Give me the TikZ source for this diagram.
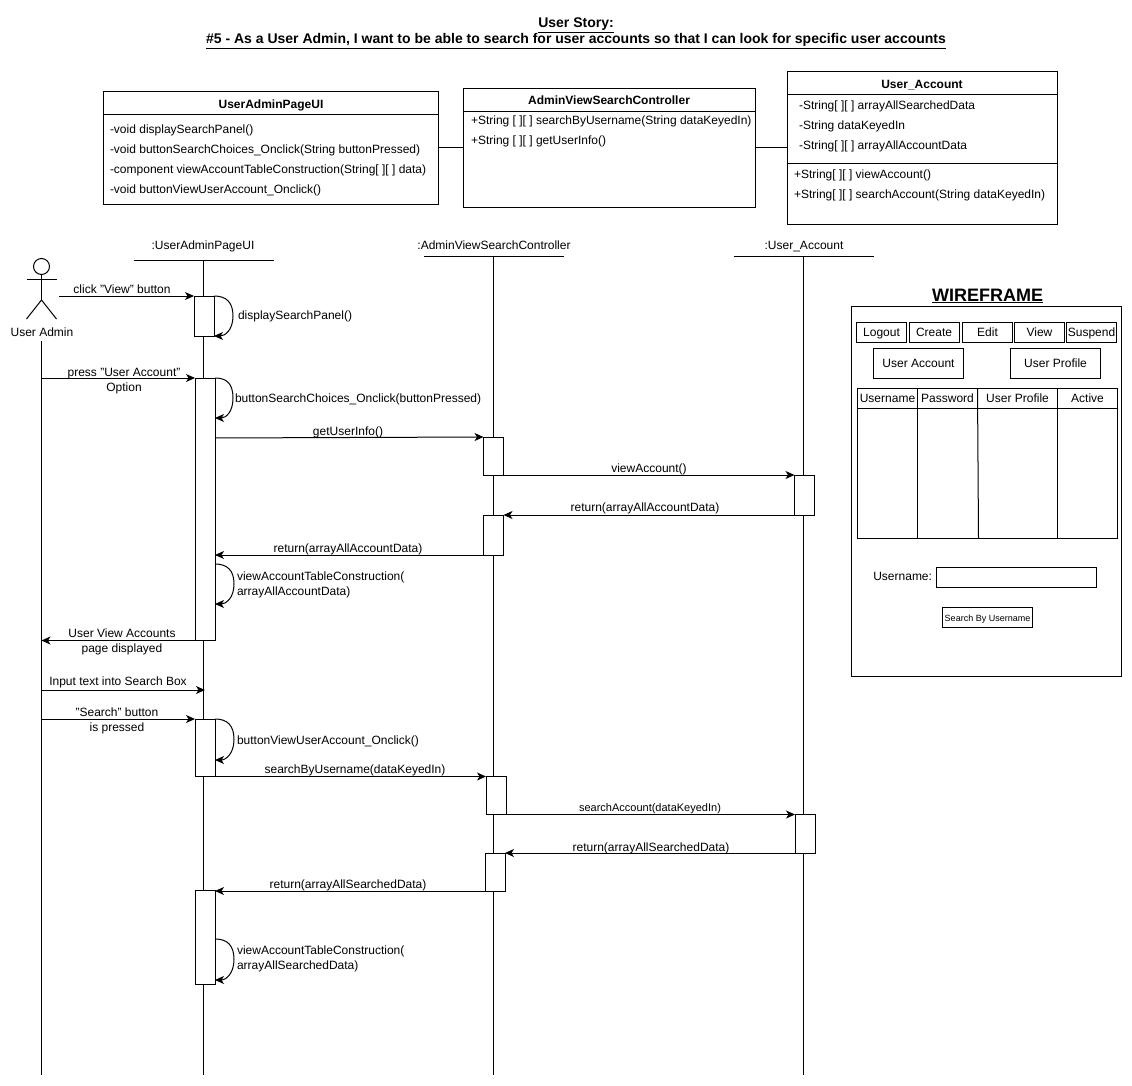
\documentclass[tikz,border=0pt]{standalone}
\usepackage{fontspec}
\setmainfont{Liberation Sans}
\usetikzlibrary{arrows.meta,calc}
\newcommand{\fsz}[1]{\fontsize{#1}{15}\selectfont}
\newcommand{\pbox}[6][]{%
  \pgfmathsetmacro{\pcx}{(#3+#5)/2}\pgfmathsetmacro{\pcy}{(#4+#6)/2}%
  \pgfmathsetmacro{\pw}{#5-#3}\pgfmathsetmacro{\ph}{#6-#4}%
  \node[boxn,minimum width=\pw pt,minimum height=\ph pt,#1] (#2) at (\pcx,\pcy) {};}
\newcommand{\selfloop}[3]{% from, to, bulge x-distance
  \draw[msg] (#1) .. controls +(12,0) and ($(#1)+(#3,6)$) .. ($(#1)!0.5!(#2)+(#3,0)$)
     .. controls ($(#1)!0.5!(#2)+(#3,14)$) and ($(#2)+(11,0)$) .. (#2);}
\tikzset{
  boxn/.style={draw=black,line width=1pt,fill=white,rectangle,inner sep=0pt,outer sep=0pt},
  lin/.style={draw=black,line width=1pt},
  msg/.style={draw=black,line width=1pt,-{Stealth[length=9pt,width=8pt,inset=2.5pt]}},
  lbl/.style={inner sep=0pt,outer sep=0pt,font=\fsz{12},align=center,text height=10pt,text depth=2pt},
  ltxt/.style={lbl,anchor=west,align=left}
}
\begin{document}
\begin{tikzpicture}[x=1pt,y=-1pt]
\useasboundingbox (0,0) rectangle (1132,1086);
% titles
\node[lbl,font=\fsz{14}\bfseries] (t1) at (576,24) {\underline{User Story:}};
\node[lbl,font=\fsz{14}\bfseries] (t2) at (576,40) {\underline{\#5 - As a User Admin, I want to be able to search for user accounts so that I can look for specific user accounts}};
% class boxes
\pbox{cUI}{103.5}{91.5}{438.5}{204.5}
\pbox{cCT}{463.5}{88.5}{755.5}{207.5}
\pbox{cAC}{787.5}{71.5}{1057.5}{224.5}
\coordinate (cUIh) at (103.5,114.5);
\coordinate (cCTh) at (463.5,111.5);
\coordinate (cACh) at (787.5,95);
\coordinate (cACm) at (787.5,164);
\draw[lin] (cUIh) -- (cUIh -| cUI.east);
\draw[lin] (cCTh) -- (cCTh -| cCT.east);
\draw[lin] (cACh) -- (cACh -| cAC.east);
\draw[lin] (cACm) -- (cACm -| cAC.east);
\coordinate (lkA) at (438.5,148);
\coordinate (lkB) at (755.5,148);
\draw[lin] (lkA) -- (lkA -| cCT.west);
\draw[lin] (lkB) -- (lkB -| cAC.west);
\node[lbl,font=\fsz{12}\bfseries] (n1) at (271,105) {UserAdminPageUI};
\node[ltxt] (u1) at (110,130) {-void displaySearchPanel()};
\node[ltxt] (u2) at (110,150) {-void buttonSearchChoices\_Onclick(String buttonPressed)};
\node[ltxt] (u3) at (110,170) {-component viewAccountTableConstruction(String[ ][ ] data)};
\node[ltxt] (u4) at (110,190) {-void buttonViewUserAccount\_Onclick()};
\node[lbl,font=\fsz{12}\bfseries] (n2) at (609,101) {AdminViewSearchController};
\node[ltxt] (v1) at (471,121) {+String [ ][ ] searchByUsername(String dataKeyedIn)};
\node[ltxt] (v2) at (471,141) {+String [ ][ ] getUserInfo()};
\node[lbl,font=\fsz{12}\bfseries] (n3) at (922,85) {User\_Account};
\node[ltxt] (w1) at (799,106) {-String[ ][ ] arrayAllSearchedData};
\node[ltxt] (w2) at (799,126) {-String dataKeyedIn};
\node[ltxt] (w3) at (799,146) {-String[ ][ ] arrayAllAccountData};
\node[ltxt] (w4) at (794,175) {+String[ ][ ] viewAccount()};
\node[ltxt] (w5) at (794,195) {+String[ ][ ] searchAccount(String dataKeyedIn)};
% lifeline heads
\node[lbl] (hUI) at (203,245) {:UserAdminPageUI};
\node[lbl] (hCT) at (494,245) {:AdminViewSearchController};
\node[lbl] (hAC) at (804,245) {:User\_Account};
\coordinate (tUI) at (203.5,260);
\coordinate (tCT) at (493.5,256);
\coordinate (tAC) at (803.7,256);
\coordinate (bUI) at (203.5,1075);
\coordinate (bCT) at (493.5,1075);
\coordinate (bAC) at (803.7,1075);
\draw[lin] ($(tUI)+(-70,0)$) -- ($(tUI)+(70,0)$);
\draw[lin] ($(tCT)+(-70,0)$) -- ($(tCT)+(70,0)$);
\draw[lin] ($(tAC)+(-70,0)$) -- ($(tAC)+(70,0)$);
\draw[lin] (tUI) -- (bUI);
\draw[lin] (tCT) -- (bCT);
\draw[lin] (tAC) -- (bAC);
% actor
\node[draw=black,line width=1pt,circle,minimum size=16pt,inner sep=0pt,outer sep=0pt] (head) at (41.5,266.5) {};
\coordinate (hip) at (41.5,300);
\coordinate (armL) at (26.5,279.5);
\coordinate (armR) at (56.5,279.5);
\coordinate (legL) at (26.5,319);
\coordinate (legR) at (56.5,319);
\draw[lin] (head.south) -- (hip);
\draw[lin] (armL) -- (armR);
\draw[lin] (legL) -- (hip) -- (legR);
\node[lbl] (act) at (42,332.5) {User Admin};
\coordinate (lA) at (41.5,341);
\coordinate (bA) at (41.5,1075);
\draw[lin] (lA) -- (bA);
% activations
\pbox{a1}{194}{296}{214}{336}
\pbox{a2}{195}{378}{215}{640.5}
\pbox{a3}{195}{719}{215}{776.5}
\pbox{a4}{195}{890.5}{215}{984.5}
\pbox{c1}{483.5}{437}{503.5}{475}
\pbox{c2}{483.5}{515}{503.5}{555}
\pbox{c3}{486}{776.5}{506}{814.5}
\pbox{c4}{485}{853}{505}{891}
\pbox{d1}{794.5}{475}{814.5}{515}
\pbox{d2}{795}{814.5}{815}{853}
% messages
\coordinate (st) at (59,296);
\draw[msg] (st) -- (a1.north west);
\node[lbl] (m1) at (122,289) {click "View" button};
\selfloop{a1.north east}{a1.south east}{19}
\node[ltxt] (m2) at (238,315) {displaySearchPanel()};
\draw[msg] (lA |- a2.north) -- (a2.north west);
\node[lbl] (m3) at (124,372) {press "User Account"};
\node[lbl] (m3b) at (124,387) {Option};
\coordinate (s2) at ($(a2.north east)+(0,40)$);
\selfloop{a2.north east}{s2}{18}
\node[ltxt] (m4) at (235,398.5) {buttonSearchChoices\_Onclick(buttonPressed)};
\draw[msg] ($(a2.east |- c1.north)+(0,1)$) -- (c1.north west);
\node[lbl] (m5) at (348,431) {getUserInfo()};
\draw[msg] (c1.south east) -- (d1.north west);
\node[lbl] (m6) at (649,468) {viewAccount()};
\draw[msg] (d1.south west) -- (c2.north east);
\node[lbl] (m7) at (645,507) {return(arrayAllAccountData)};
\draw[msg] (c2.south west) -- (a2.east |- c2.south);
\node[lbl] (m8) at (348,548) {return(arrayAllAccountData)};
\coordinate (s3a) at (a2.east |- 0,564);
\coordinate (s3b) at (a2.east |- 0,604);
\selfloop{s3a}{s3b}{19}
\node[ltxt] (m9) at (237,576) {viewAccountTableConstruction(};
\node[ltxt] (m9b) at (237,591) {arrayAllAccountData)};
\draw[msg] (a2.south west) -- (lA |- a2.south);
\node[lbl] (m10) at (122,633) {User View Accounts};
\node[lbl] (m10b) at (122,648) {page displayed};
\coordinate (i1) at (41.5,690);
\draw[msg] (i1) -- ($(tUI |- i1)+(1.5,0)$);
\node[lbl] (m11) at (118,681) {Input text into Search Box};
\draw[msg] (lA |- a3.north) -- (a3.north west);
\node[lbl] (m12) at (117,712) {"Search" button};
\node[lbl] (m12b) at (117,727) {is pressed};
\coordinate (s4) at ($(a3.north east)+(0,41)$);
\selfloop{a3.north east}{s4}{19}
\node[ltxt] (m13) at (237,740) {buttonViewUserAccount\_Onclick()};
\draw[msg] (a3.south east) -- (c3.north west);
\node[lbl] (m14) at (355,769) {searchByUsername(dataKeyedIn)};
\draw[msg] (c3.south east) -- (d2.north west);
\node[lbl,font=\fsz{11}] (m15) at (650,807) {searchAccount(dataKeyedIn)};
\draw[msg] (d2.south west) -- (c4.north east);
\node[lbl] (m16) at (651,847) {return(arrayAllSearchedData)};
\draw[msg] (c4.south west) -- (a4.east |- c4.south);
\node[lbl] (m17) at (348,884) {return(arrayAllSearchedData)};
\coordinate (s5a) at (a4.east |- 0,939);
\coordinate (s5b) at (a4.east |- 0,980);
\selfloop{s5a}{s5b}{19}
\node[ltxt] (m18) at (237,950) {viewAccountTableConstruction(};
\node[ltxt] (m18b) at (237,965) {arrayAllSearchedData)};
% wireframe
\node[lbl,font=\fsz{18}\bfseries] (wft) at (987.5,297) {\underline{WIREFRAME}};
\pbox{wf}{851.5}{306.5}{1121.5}{676.5}
\pbox{b1}{856.5}{322.5}{906.5}{342.5}
\pbox{b2}{909.5}{322.5}{959.5}{342.5}
\pbox{b3}{962.5}{322.5}{1012.5}{342.5}
\pbox{b4}{1014.5}{322.5}{1064.5}{342.5}
\pbox{b5}{1066.5}{322.5}{1116.5}{342.5}
\node[lbl] (bt1) at (881.5,332) {Logout};
\node[lbl] (bt2) at (934,332) {Create};
\node[lbl] (bt3) at (987.5,332) {Edit};
\node[lbl] (bt4) at (1039.5,332) {View};
\node[lbl] (bt5) at (1091.5,332) {Suspend};
\pbox{p1}{873.5}{348.5}{963.5}{378.5}
\pbox{p2}{1010.5}{348.5}{1100.5}{378.5}
\node[lbl] (pt1) at (918.5,363) {User Account};
\node[lbl] (pt2) at (1055.5,363) {User Profile};
\pbox{tb}{857.5}{388.5}{1117.5}{538.5}
\coordinate (th) at (857.5,408.5);
\draw[lin] (th) -- (th -| tb.east);
\coordinate (c1t) at (917.5,388.5);
\coordinate (c2t) at (977.5,388.5);
\coordinate (c3t) at (1057.5,388.5);
\draw[lin] (c1t) -- (c1t |- tb.south);
\draw[lin] (c2t) -- ($(c2t |- tb.south)+(1,0)$);
\draw[lin] (c3t) -- (c3t |- tb.south);
\node[lbl] (h1) at (887.5,398) {Username};
\node[lbl] (h2) at (947.5,398) {Password};
\node[lbl] (h3) at (1017.5,398) {User Profile};
\node[lbl] (h4) at (1087.5,398) {Active};
\node[lbl,anchor=east] (ul) at (932,576.5) {Username:};
\pbox{tf}{936.5}{567.5}{1096.5}{587.5}
\pbox{sb}{942.5}{607.5}{1032.5}{627.5}
\node[lbl,font=\fsz{9}] (sbt) at (987.5,617) {Search By Username};
\end{tikzpicture}
\end{document}
